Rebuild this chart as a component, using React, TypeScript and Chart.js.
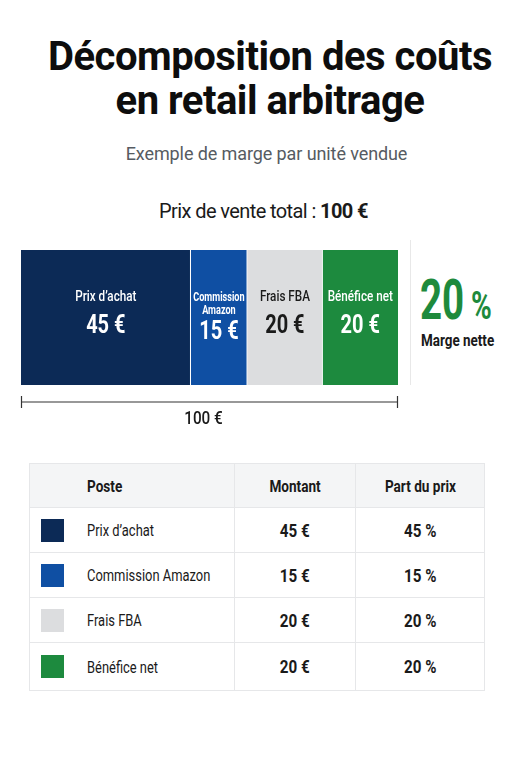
import React, { useEffect, useRef } from "react";
import { Chart, registerables } from "chart.js";

Chart.register(...registerables);

const categories = ["Prix d’achat", "Commission Amazon", "Frais FBA", "Bénéfice net"];
const barLabelLines = [["Prix d’achat"], ["Commission", "Amazon"], ["Frais FBA"], ["Bénéfice net"]];
const values = [45, 15, 20, 20];
const shares = [45, 15, 20, 20];
const colors = ["#0c2a56", "#0f4fa3", "#dcdddf", "#1d8a3e"];
const textColors = ["#ffffff", "#ffffff", "#1a1a1a", "#ffffff"];
const totalPrice = 100;
const netMargin = 20;

const FONT = "Roboto, 'Noto Sans', sans-serif";
const SQ = 0.8; // horizontal squeeze to mimic a condensed face

function squeezedText(ctx: any, text: string, x: number, y: number, sx: number) {
  ctx.save();
  ctx.translate(x, y);
  ctx.scale(sx, 1);
  ctx.fillText(text, 0, 0);
  ctx.restore();
}

const barLabelsPlugin = {
  id: "barLabels",
  afterDatasetsDraw(chart: any) {
    const ctx = chart.ctx;
    ctx.save();
    chart.data.datasets.forEach((ds: any, i: number) => {
      const meta = chart.getDatasetMeta(i);
      const el = meta.data[0];
      if (!el) return;
      const cx = (el.x + el.base) / 2;
      const cy = el.y;
      const lines = barLabelLines[i];
      const n = lines.length;
      ctx.fillStyle = textColors[i];
      ctx.textAlign = "center";
      ctx.textBaseline = "middle";
      ctx.font = (n > 1 ? "bold 12px " : "500 15px ") + FONT;
      lines.forEach((l: string, k: number) => {
        squeezedText(ctx, l, cx, cy - 20 + k * 13, n > 1 ? 0.76 : 0.78);
      });
      ctx.font = "bold 25px " + FONT;
      squeezedText(ctx, values[i] + " €", cx, cy + 9 + (n - 1) * 6, SQ);
    });
    // dimension line
    const xs = chart.scales.x;
    const x0 = xs.getPixelForValue(0);
    const x1 = xs.getPixelForValue(totalPrice);
    const y = chart.chartArea.bottom + 17;
    ctx.strokeStyle = "#333";
    ctx.lineWidth = 1.2;
    ctx.beginPath();
    ctx.moveTo(x0, y);
    ctx.lineTo(x1, y);
    ctx.moveTo(x0 + 0.5, y - 6);
    ctx.lineTo(x0 + 0.5, y + 6);
    ctx.moveTo(x1 - 0.5, y - 6);
    ctx.lineTo(x1 - 0.5, y + 6);
    ctx.stroke();
    ctx.fillStyle = "#1a1a1a";
    ctx.font = "500 18px " + FONT;
    squeezedText(ctx, totalPrice + " €", (x0 + x1) / 2 - 6, y + 17, 0.85);
    ctx.restore();
  },
};

function BarChart() {
  const ref = useRef<HTMLCanvasElement>(null);
  useEffect(() => {
    if (!ref.current) return;
    const chart = new Chart(ref.current, {
      type: "bar",
      data: {
        labels: ["Prix de vente"],
        datasets: categories.map((c, i) => ({
          label: c,
          data: [values[i]],
          backgroundColor: colors[i],
          borderColor: "#ffffff",
          borderWidth: i < categories.length - 1 ? { right: 1, left: 0, top: 0, bottom: 0 } : 0,
          borderSkipped: false,
          barPercentage: 1,
          categoryPercentage: 1,
        })),
      },
      options: {
        indexAxis: "y",
        responsive: false,
        maintainAspectRatio: false,
        animation: false,
        layout: { padding: { left: 21, right: 12, top: 10, bottom: 55 } },
        plugins: { legend: { display: false }, tooltip: { enabled: false } },
        scales: {
          x: { stacked: true, min: 0, max: totalPrice, display: false },
          y: { stacked: true, display: false },
        },
      },
      plugins: [barLabelsPlugin],
    });
    return () => chart.destroy();
  }, []);
  return (
    <canvas
      ref={ref}
      width={410}
      height={200}
      style={{ position: "absolute", left: 0, top: 240, width: 410, height: 200 }}
    />
  );
}

function Sq({ children, s = SQ, origin = "left center" }: { children: React.ReactNode; s?: number; origin?: string }) {
  return (
    <span style={{ display: "inline-block", transform: `scaleX(${s})`, transformOrigin: origin, whiteSpace: "nowrap" }}>
      {children}
    </span>
  );
}

export default function App() {
  const cell: React.CSSProperties = {
    borderRight: "1px solid #e6e7e9",
    borderBottom: "1px solid #e6e7e9",
    padding: 0,
    overflow: "visible",
  };
  return (
    <div
      style={{
        position: "absolute",
        left: 0,
        top: 0,
        width: 511,
        height: 768,
        background: "#ffffff",
        fontFamily: FONT,
        color: "#111",
        overflow: "hidden",
      }}
    >
      <div
        style={{
          position: "absolute",
          left: 0,
          width: 540,
          top: 35,
          textAlign: "center",
          fontWeight: 700,
          fontSize: 40,
          lineHeight: "44px",
          letterSpacing: -0.5,
          color: "#0d0d0d",
        }}
      >
        Décomposition des coûts
        <br />
        en retail arbitrage
      </div>
      <div
        style={{
          position: "absolute",
          left: 0,
          width: 533,
          top: 143,
          textAlign: "center",
          fontSize: 18,
          color: "#565b62",
          letterSpacing: -0.1,
        }}
      >
        Exemple de marge par unité vendue
      </div>
      <div
        style={{
          position: "absolute",
          left: 0,
          width: 527,
          top: 199,
          textAlign: "center",
          fontSize: 20,
          color: "#1a1a1a",
          letterSpacing: -0.6,
        }}
      >
        Prix de vente total : <b>{totalPrice} €</b>
      </div>
      <BarChart />
      <div style={{ position: "absolute", left: 410, top: 240, width: 1, height: 145, background: "#e8e8e8" }} />
      <div
        style={{
          position: "absolute",
          left: 420,
          top: 273,
          fontSize: 55,
          lineHeight: 1,
          fontWeight: 700,
          color: "#1e8a3c",
          transform: "scaleX(0.7)",
          transformOrigin: "left top",
          whiteSpace: "nowrap",
        }}
      >
        {netMargin}
      </div>
      <div
        style={{
          position: "absolute",
          left: 471,
          top: 287,
          fontSize: 38,
          lineHeight: 1,
          fontWeight: 700,
          color: "#1e8a3c",
          transform: "scaleX(0.74)",
          transformOrigin: "left top",
          whiteSpace: "nowrap",
        }}
      >
        %
      </div>
      <div
        style={{
          position: "absolute",
          left: 414,
          width: 88,
          top: 331,
          textAlign: "center",
          color: "#1a1a1a",
          fontWeight: 700,
          fontSize: 16,
          whiteSpace: "nowrap",
        }}
      >
        <Sq s={0.84} origin="center center">Marge nette</Sq>
      </div>
      <table
        style={{
          position: "absolute",
          left: 29,
          top: 463,
          width: 455,
          tableLayout: "fixed",
          borderCollapse: "collapse",
          borderTop: "1px solid #e6e7e9",
          borderLeft: "1px solid #e6e7e9",
          fontSize: 17,
          color: "#1a1a1a",
        }}
      >
        <colgroup>
          <col style={{ width: 205 }} />
          <col style={{ width: 121 }} />
          <col style={{ width: 129 }} />
        </colgroup>
        <thead>
          <tr style={{ height: 44, background: "#f4f5f6" }}>
            <th style={{ ...cell, textAlign: "left", paddingLeft: 57, fontWeight: 700 }}>
              <Sq>Poste</Sq>
            </th>
            <th style={{ ...cell, textAlign: "center", fontWeight: 700 }}>
              <Sq origin="center center">Montant</Sq>
            </th>
            <th style={{ ...cell, textAlign: "center", fontWeight: 700 }}>
              <Sq origin="center center">Part du prix</Sq>
            </th>
          </tr>
        </thead>
        <tbody>
          {categories.map((c, i) => (
            <tr key={c} style={{ height: i === 3 ? 48 : 45 }}>
              <td style={{ ...cell }}>
                <div style={{ display: "flex", alignItems: "center" }}>
                  <span
                    style={{
                      display: "inline-block",
                      width: 23,
                      height: 23,
                      marginLeft: 11,
                      background: colors[i],
                      flex: "none",
                    }}
                  />
                  <span style={{ marginLeft: 23 }}>
                    <Sq s={0.76}>{c}</Sq>
                  </span>
                </div>
              </td>
              <td style={{ ...cell, textAlign: "center", fontWeight: 700, fontSize: 19 }}>
                <Sq origin="center center">{values[i]} €</Sq>
              </td>
              <td style={{ ...cell, textAlign: "center", fontWeight: 700, fontSize: 19 }}>
                <Sq origin="center center">{shares[i]} %</Sq>
              </td>
            </tr>
          ))}
        </tbody>
      </table>
    </div>
  );
}
